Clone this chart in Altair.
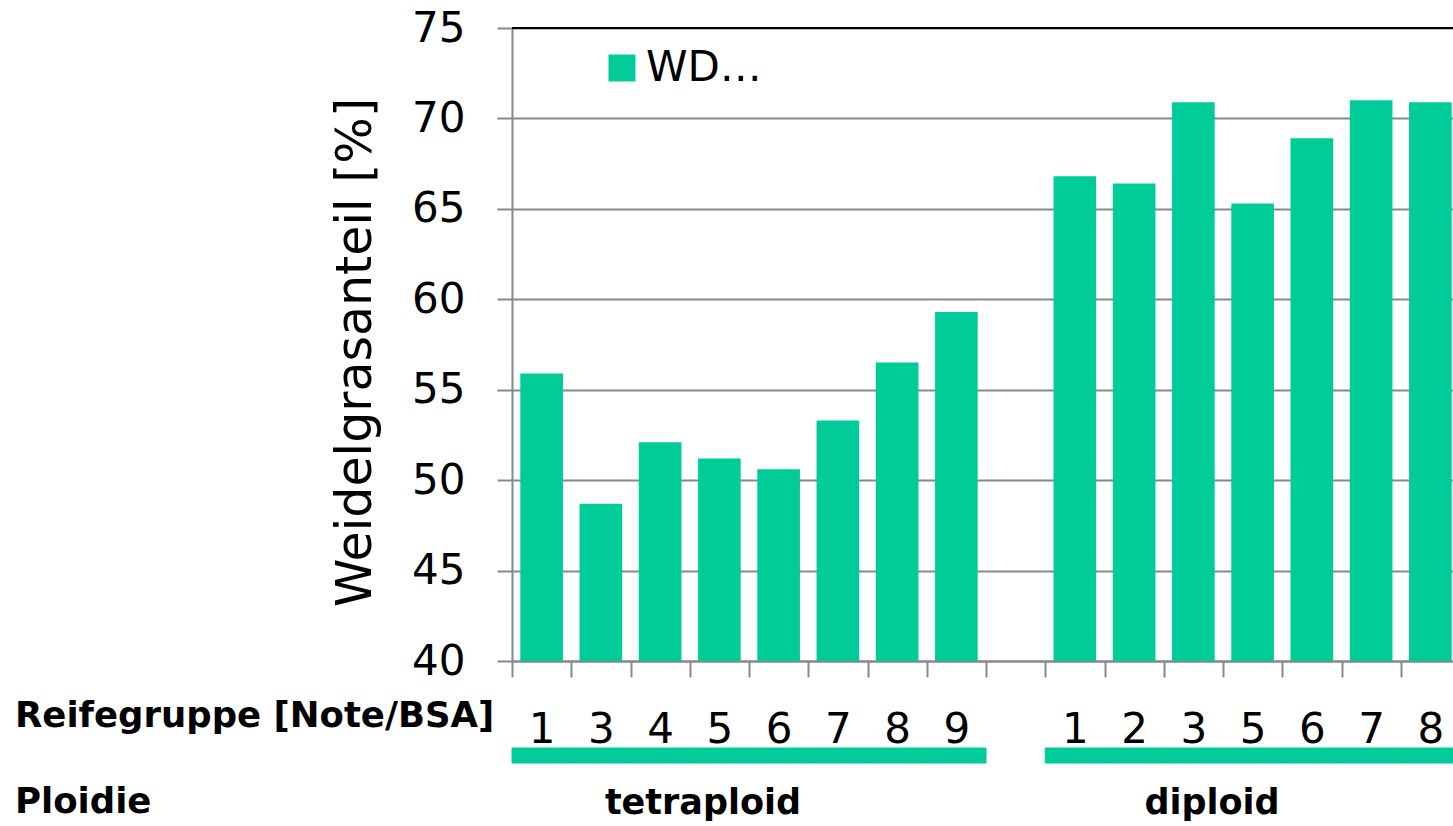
import altair as alt
import pandas as pd

# Weidelgras share by maturity group (Reifegruppe), split by ploidy
tetra_groups = ["1", "3", "4", "5", "6", "7", "8", "9"]
tetra_values = [55.9, 48.7, 52.1, 51.2, 50.6, 53.3, 56.5, 59.3]
di_groups = ["1", "2", "3", "5", "6", "7", "8"]
di_values = [66.8, 66.4, 70.9, 65.3, 68.9, 71.0, 70.9]
series_name = "WD…"
y_ticks = [40, 45, 50, 55, 60, 65, 70, 75]

GREEN = "#00CC99"
GRID = "#888888"
SANS = "DejaVu Sans"

# one slot per bar plus an empty slot between the two ploidy groups;
# diploid slot names carry a zero-width space so that repeated group
# numbers stay distinct categories while printing the same digit
tetra_keys = list(tetra_groups)
di_keys = [g + "\u200b" for g in di_groups]
gap_key = " "
slot_keys = tetra_keys + [gap_key] + di_keys

bars = pd.DataFrame({
    "key": tetra_keys + di_keys,
    "value": tetra_values + di_values,
    "series": [series_name] * (len(tetra_keys) + len(di_keys)),
})
strips = pd.DataFrame({"key": tetra_keys + di_keys})

x_scale = alt.Scale(domain=slot_keys, range=[0, 948], paddingInner=0, paddingOuter=0)
x_axis = alt.Axis(
    title=None, labelAngle=0, labelOverlap=False,
    tickBand="extent", tickSize=16, tickWidth=2, tickColor=GRID,
    domainColor=GRID, domainWidth=2, labelFont=SANS, labelFontSize=42,
    labelColor="black", labelBaseline="alphabetic", labelPadding=65, grid=False,
)
y_axis = alt.Axis(
    title="Weidelgrasanteil [%]", values=y_ticks, tickSize=15, tickWidth=2,
    tickColor=GRID, domainColor=GRID, domainWidth=2, gridColor=GRID, gridWidth=2,
    labelFont=SANS, labelFontSize=42, labelColor="black", labelPadding=32,
    titleFont=SANS, titleFontSize=49, titleFontWeight="normal", titleColor="black",
    titlePadding=31, titleY=324,
)

bar_layer = alt.Chart(bars).mark_bar(width=alt.RelativeBandSize(0.72), clip=True).encode(
    x=alt.X("key:N", scale=x_scale, axis=x_axis, sort=slot_keys),
    y=alt.Y("value:Q", scale=alt.Scale(domain=[40, 75], zero=False, nice=False), axis=y_axis),
    color=alt.Color(
        "series:N",
        scale=alt.Scale(domain=[series_name], range=[GREEN]),
        legend=alt.Legend(
            title=None, orient="none", legendX=89, legendY=19, padding=0,
            symbolType="square", symbolSize=729, symbolStrokeWidth=0,
            symbolOpacity=1, labelFont=SANS, labelFontSize=42,
            labelColor="black", labelOffset=3,
        ),
    ),
)

top_line = alt.Chart(pd.DataFrame({"v": [75]})).mark_rule(
    color="black", strokeWidth=2
).encode(y=alt.Y("v:Q"))

strip_layer = alt.Chart(strips).mark_rect(color=GREEN, stroke=GREEN, strokeWidth=1).encode(
    x=alt.X("key:N", sort=slot_keys),
    y=alt.value(720),
    y2=alt.value(735),
)

group_labels = alt.Chart(pd.DataFrame({
    "text": ["tetraploid", "diploid"],
    "px": [191, 700],
})).mark_text(
    font=SANS, fontSize=35, fontWeight="bold", color="black",
    align="center", baseline="alphabetic",
).encode(x=alt.X("px:Q", scale=None), y=alt.value(786), text="text:N")

row_labels = alt.Chart(pd.DataFrame({
    "text": ["Reifegruppe [Note/BSA]", "Ploidie"],
    "py": [699, 785],
})).mark_text(
    font=SANS, fontSize=35.5, fontWeight="bold", color="black",
    align="left", baseline="alphabetic",
).encode(x=alt.value(-497), y=alt.Y("py:Q", scale=None), text="text:N")

chart = alt.layer(
    bar_layer, top_line, strip_layer, group_labels, row_labels
).properties(
    width=941, height=633,
    autosize=alt.AutoSizeParams(type="none"),
    padding={"left": 512, "top": 28, "right": 0, "bottom": 160},
).configure_view(strokeWidth=0)

chart.save("out.html", embed_options={"renderer": "svg", "actions": False})
